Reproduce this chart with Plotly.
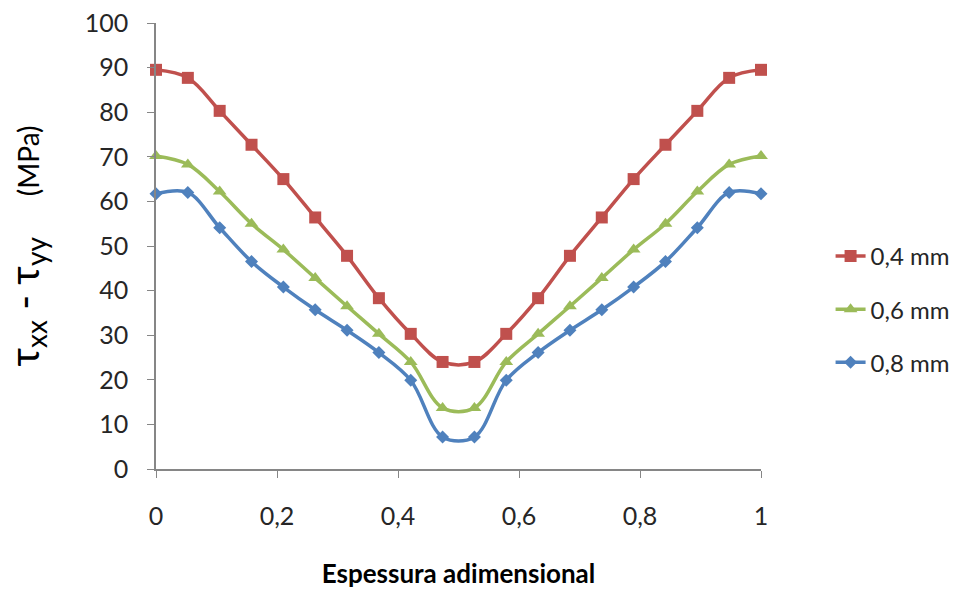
import plotly.graph_objects as go

# Data
x_vals = [i / 19 for i in range(20)]
series_names = ["0,4 mm", "0,6 mm", "0,8 mm"]
red_04 = [89.5, 87.7, 80.3, 72.7, 65.0, 56.4, 47.8, 38.3, 30.3, 24.0,
          24.0, 30.3, 38.3, 47.8, 56.4, 65.0, 72.7, 80.3, 87.7, 89.5]
green_06 = [70.2, 68.3, 62.2, 55.0, 49.2, 42.8, 36.5, 30.3, 24.0, 13.7,
            13.7, 24.0, 30.3, 36.5, 42.8, 49.2, 55.0, 62.2, 68.3, 70.2]
blue_08 = [61.7, 62.0, 54.1, 46.5, 40.8, 35.7, 31.1, 26.1, 19.9, 7.2,
           7.2, 19.9, 26.1, 31.1, 35.7, 40.8, 46.5, 54.1, 62.0, 61.7]
x_tickvals = [0, 0.2, 0.4, 0.6, 0.8, 1]
x_ticktext = ["0", "0,2", "0,4", "0,6", "0,8", "1"]
y_tickvals = [0, 10, 20, 30, 40, 50, 60, 70, 80, 90, 100]

colors = ["#C0504D", "#9BBB59", "#4F81BD"]
symbols = ["square", "triangle-up", "diamond"]
sizes = [12, 12, 10]
FONT = "Lato"

fig = go.Figure()
for name, ys, c, s, sz in zip(series_names, [red_04, green_06, blue_08], colors, symbols, sizes):
    fig.add_trace(go.Scatter(
        x=x_vals, y=ys, name=name, mode="lines+markers",
        line=dict(color=c, width=3.5, shape="spline", smoothing=1.0),
        marker=dict(symbol=s, size=sz, color=c),
        cliponaxis=False, legendgroup=name,
    ))

axis_color = "#868686"
fig.update_layout(
    width=967, height=589,
    margin=dict(l=156, r=204, t=23, b=120),
    paper_bgcolor="white", plot_bgcolor="white",
    font=dict(family=FONT, size=25, color="#262626"),
    showlegend=True,
    legend=dict(x=1.115, y=0.358, xanchor="left", yanchor="middle",
                font=dict(family=FONT, size=24, color="#262626"),
                borderwidth=0, tracegroupgap=19, bgcolor="rgba(0,0,0,0)"),
    xaxis=dict(range=[0, 1], tickvals=x_tickvals, ticktext=x_ticktext,
               automargin=False,
               showgrid=False, zeroline=False, showline=True,
               linecolor=axis_color, linewidth=1.5,
               ticks="outside", ticklen=7, tickcolor=axis_color,
               ticklabelstandoff=17,
               title=dict(text="<b>Espessura adimensional</b>",
                          font=dict(family=FONT, size=26, color="#000000"),
                          standoff=40)),
    yaxis=dict(range=[0, 100], tickvals=y_tickvals,
               automargin=False,
               showgrid=False, zeroline=False, showline=True,
               linecolor=axis_color, linewidth=1.5,
               ticks="outside", ticklen=7, tickcolor=axis_color,
               ticklabelstandoff=14,
               title=dict(text="τ<sub>xx</sub> - τ<sub>yy</sub>    <span style='font-size:28px'>(MPa)</span>",
                          font=dict(family=FONT, size=40, color="#000000"),
                          standoff=36)),
)

fig.write_html("out.html")
